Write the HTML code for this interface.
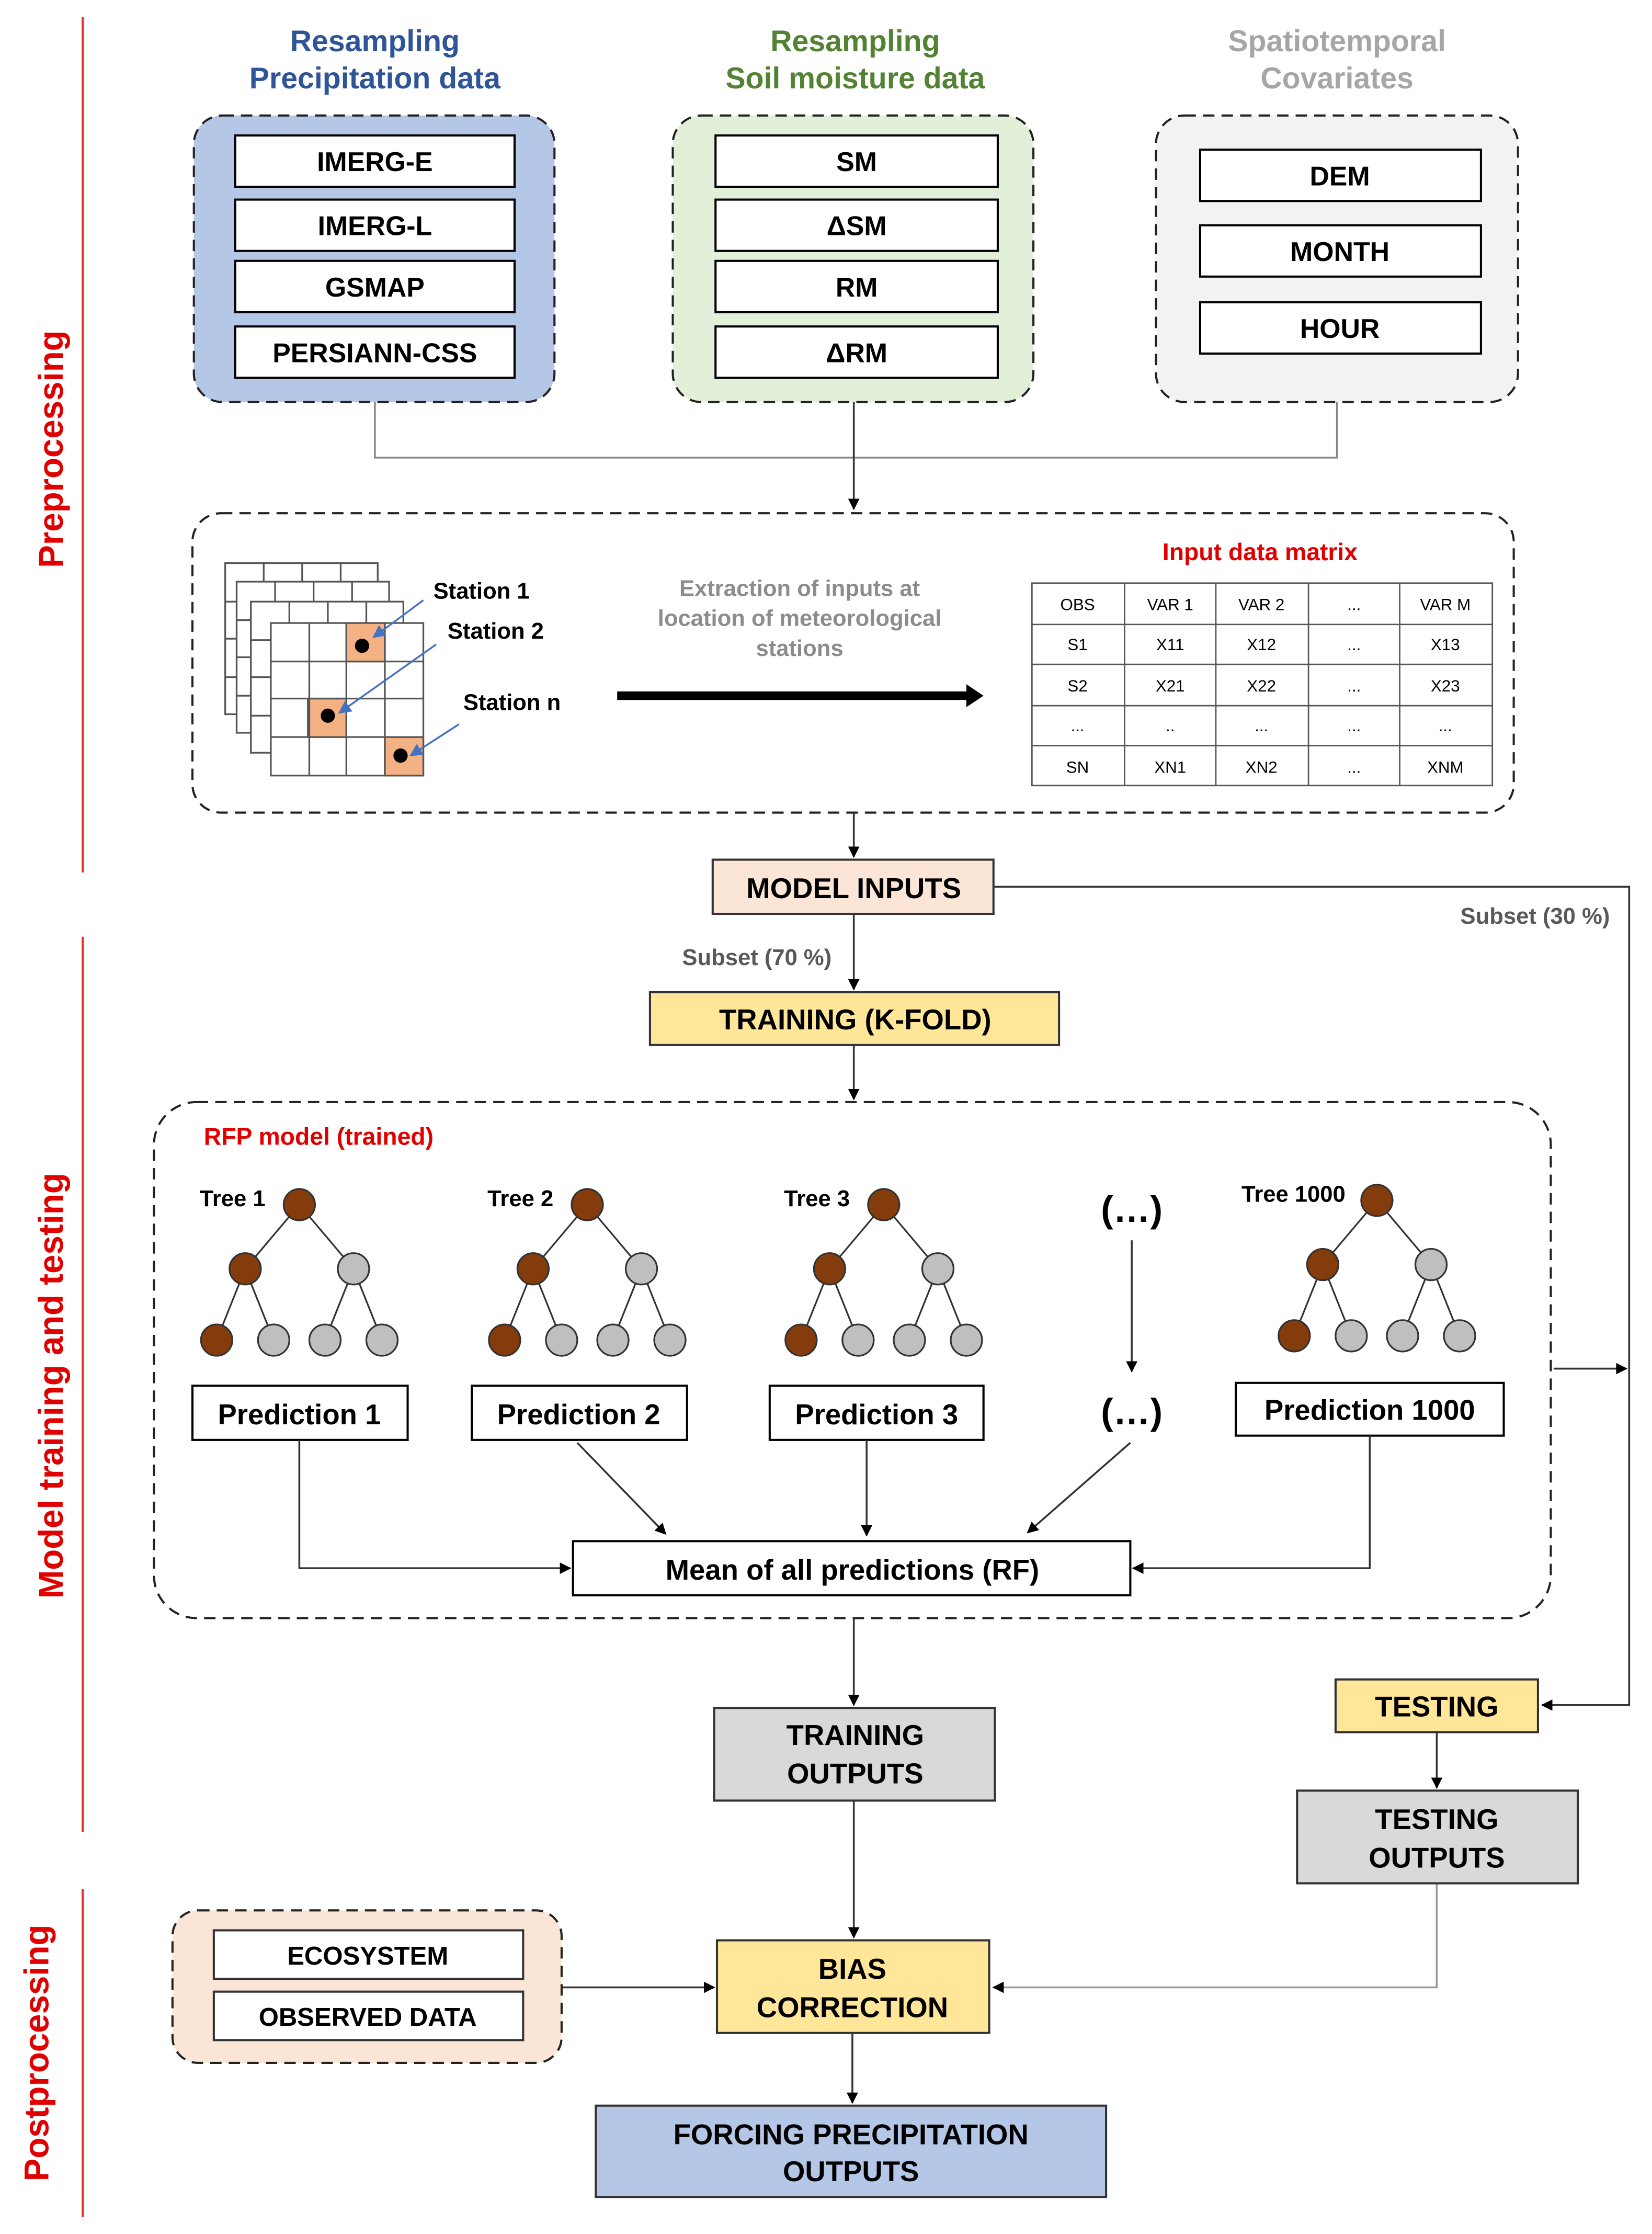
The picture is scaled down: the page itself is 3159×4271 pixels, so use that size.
<!DOCTYPE html>
<html><head><meta charset="utf-8"><style>html,body{margin:0;padding:0;background:#fff}svg{display:block}</style></head><body>
<svg xmlns="http://www.w3.org/2000/svg" width="3159" height="4271" viewBox="0 0 1159 1567" font-family="Liberation Sans, Arial, sans-serif" font-weight="bold">
<defs>
<marker id="a" viewBox="0 0 10 10" refX="9" refY="5" markerWidth="8" markerHeight="8" orient="auto-start-reverse" markerUnits="userSpaceOnUse"><path d="M0,0 L10,5 L0,10 z" fill="#000"/></marker>
<marker id="b" viewBox="0 0 10 10" refX="9" refY="5" markerWidth="9" markerHeight="9" orient="auto" markerUnits="userSpaceOnUse"><path d="M0,0 L10,5 L0,10 z" fill="#4472c4"/></marker>
</defs>
<rect width="1159" height="1567" fill="#fff"/>
<!-- side labels -->
<g stroke="#e03030" stroke-width="1.5"><line x1="58" y1="12" x2="58" y2="612"/><line x1="58" y1="657" x2="58" y2="1285"/><line x1="58" y1="1325" x2="58" y2="1555"/></g>
<g fill="#e00000" font-size="24" text-anchor="middle">
<text transform="translate(44,315) rotate(-90)">Preprocessing</text>
<text transform="translate(44,972) rotate(-90)">Model training and testing</text>
<text transform="translate(34,1440) rotate(-90)">Postprocessing</text>
</g>
<!-- headers -->
<g font-size="21" text-anchor="middle">
<text x="263" y="36" fill="#2f5597">Resampling</text><text x="263" y="62" fill="#2f5597">Precipitation data</text>
<text x="600" y="36" fill="#548235">Resampling</text><text x="600" y="62" fill="#548235">Soil moisture data</text>
<text x="938" y="36" fill="#a6a6a6">Spatiotemporal</text><text x="938" y="62" fill="#a6a6a6">Covariates</text>
</g>
<g stroke="#222" stroke-width="1.5" stroke-dasharray="8,5">
<rect x="136" y="81" width="253" height="201" rx="20" fill="#b4c7e7"/>
<rect x="472" y="81" width="253" height="201" rx="20" fill="#e2f0d9"/>
<rect x="811" y="81" width="254" height="201" rx="20" fill="#f2f2f2"/>
</g>
<g stroke="#000" stroke-width="1.5" fill="#fff">
<rect x="165" y="95" width="196" height="36"/><rect x="165" y="140" width="196" height="36"/><rect x="165" y="183" width="196" height="36"/><rect x="165" y="229" width="196" height="36"/>
<rect x="502" y="95" width="198" height="36"/><rect x="502" y="140" width="198" height="36"/><rect x="502" y="183" width="198" height="36"/><rect x="502" y="229" width="198" height="36"/>
<rect x="842" y="105" width="197" height="36"/><rect x="842" y="158" width="197" height="36"/><rect x="842" y="212" width="197" height="36"/>
</g>
<g font-size="19" text-anchor="middle" fill="#000">
<text x="263" y="120">IMERG-E</text><text x="263" y="165">IMERG-L</text><text x="263" y="208">GSMAP</text><text x="263" y="254">PERSIANN-CSS</text>
<text x="601" y="120">SM</text><text x="601" y="165">ΔSM</text><text x="601" y="208">RM</text><text x="601" y="254">ΔRM</text>
<text x="940" y="130">DEM</text><text x="940" y="183">MONTH</text><text x="940" y="237">HOUR</text>
</g>
<g fill="none" stroke="#888" stroke-width="1.3"><polyline points="263,282 263,321 938,321 938,282"/></g>
<line x1="599" y1="282" x2="599" y2="357" stroke="#333" stroke-width="1.3" marker-end="url(#a)"/>
<!-- extraction box -->
<rect x="135" y="360" width="927" height="210" rx="20" fill="#fff" stroke="#222" stroke-width="1.5" stroke-dasharray="8,5"/>
<g stroke="#555" stroke-width="1.2" fill="#fff">
<g><rect x="158" y="395" width="107" height="106"/><path d="M185,395v106M212,395v106M239,395v106M158,422h107M158,448h107M158,475h107" fill="none"/></g>
<g><rect x="166" y="408" width="107" height="106"/><path d="M193,408v106M220,408v106M247,408v106M166,435h107M166,461h107M166,488h107" fill="none"/></g>
<g><rect x="176" y="422" width="107" height="106"/><path d="M203,422v106M230,422v106M257,422v106M176,449h107M176,475h107M176,502h107" fill="none"/></g>
<rect x="190" y="437" width="107" height="107"/>
<rect x="243" y="437" width="27" height="27" fill="#f4b183"/><rect x="216" y="490" width="27" height="27" fill="#f4b183"/><rect x="270" y="517" width="27" height="27" fill="#f4b183"/>
<path d="M217,437v107M243,437v107M270,437v107M190,464h107M190,490h107M190,517h107" fill="none"/>
</g>
<g fill="#000"><circle cx="254" cy="453" r="5"/><circle cx="230" cy="502" r="5"/><circle cx="281" cy="530" r="5"/></g>
<g stroke="#4472c4" stroke-width="1.3"><line x1="297" y1="421" x2="262" y2="447" marker-end="url(#b)"/><line x1="306" y1="452" x2="238" y2="500" marker-end="url(#b)"/><line x1="322" y1="508" x2="288" y2="530" marker-end="url(#b)"/></g>
<g font-size="16" fill="#000"><text x="304" y="420">Station 1</text><text x="314" y="448">Station 2</text><text x="325" y="498">Station n</text></g>
<g font-size="16" fill="#8c8c8c" font-weight="normal" text-anchor="middle" style="font-weight:600"><text x="561" y="418">Extraction of inputs at</text><text x="561" y="439">location of meteorological</text><text x="561" y="460">stations</text></g>
<line x1="433" y1="488" x2="680" y2="488" stroke="#000" stroke-width="6"/><path d="M678,480 L690,488 L678,496z" fill="#000"/>
<text x="884" y="393" font-size="17" fill="#e00000" text-anchor="middle">Input data matrix</text>
<g stroke="#555" stroke-width="1" fill="none"><rect x="724" y="409" width="323" height="142"/><path d="M789,409v142M853,409v142M918,409v142M982,409v142M724,438h323M724,466h323M724,495h323M724,523h323"/></g>
<g font-size="11.5" fill="#000" text-anchor="middle" style="font-weight:normal">
<text x="756" y="428">OBS</text><text x="821" y="428">VAR 1</text><text x="885" y="428">VAR 2</text><text x="950" y="428">...</text><text x="1014" y="428">VAR M</text>
<text x="756" y="456">S1</text><text x="821" y="456">X11</text><text x="885" y="456">X12</text><text x="950" y="456">...</text><text x="1014" y="456">X13</text>
<text x="756" y="485">S2</text><text x="821" y="485">X21</text><text x="885" y="485">X22</text><text x="950" y="485">...</text><text x="1014" y="485">X23</text>
<text x="756" y="513">...</text><text x="821" y="513">..</text><text x="885" y="513">...</text><text x="950" y="513">...</text><text x="1014" y="513">...</text>
<text x="756" y="542">SN</text><text x="821" y="542">XN1</text><text x="885" y="542">XN2</text><text x="950" y="542">...</text><text x="1014" y="542">XNM</text>
</g>
<g stroke="#333" stroke-width="1.3" fill="none">
<line x1="599" y1="570" x2="599" y2="601" marker-end="url(#a)"/>
<line x1="599" y1="641" x2="599" y2="694" marker-end="url(#a)"/>
<line x1="599" y1="733" x2="599" y2="771" marker-end="url(#a)"/>
<polyline points="697,622 1143,622 1143,1196 1082,1196" marker-end="url(#a)"/>
<line x1="1090" y1="960" x2="1141" y2="960" marker-end="url(#a)"/>
</g>
<rect x="500" y="603" width="197" height="38" fill="#fbe5d6" stroke="#333" stroke-width="1.5"/>
<text x="599" y="630" font-size="20" text-anchor="middle">MODEL INPUTS</text>
<text x="1077" y="648" font-size="16" fill="#595959" text-anchor="middle">Subset (30 %)</text>
<text x="531" y="677" font-size="16" fill="#595959" text-anchor="middle">Subset (70 %)</text>
<rect x="456" y="696" width="287" height="37" fill="#ffe699" stroke="#333" stroke-width="1.5"/>
<text x="600" y="722" font-size="20" text-anchor="middle">TRAINING  (K-FOLD)</text>
<!-- RF box -->
<rect x="108" y="773" width="980" height="362" rx="30" fill="none" stroke="#222" stroke-width="1.5" stroke-dasharray="8,5"/>
<text x="143" y="803" font-size="17" fill="#e00000">RFP model (trained)</text>
<g id="t1" stroke="#333" stroke-width="1.2">
<path d="M210,845 L172,890 M210,845 L248,890 M172,890 L152,940 M172,890 L192,940 M248,890 L228,940 M248,890 L268,940"/>
<circle cx="210" cy="845" r="11" fill="#843c0c"/><circle cx="172" cy="890" r="11" fill="#843c0c"/><circle cx="248" cy="890" r="11" fill="#bfbfbf"/>
<circle cx="152" cy="940" r="11" fill="#843c0c"/><circle cx="192" cy="940" r="11" fill="#bfbfbf"/><circle cx="228" cy="940" r="11" fill="#bfbfbf"/><circle cx="268" cy="940" r="11" fill="#bfbfbf"/>
</g>
<use href="#t1" x="202"/><use href="#t1" x="410"/><use href="#t1" x="756" y="-3"/>
<g font-size="16" fill="#000"><text x="140" y="846">Tree 1</text><text x="342" y="846">Tree 2</text><text x="550" y="846">Tree 3</text><text x="871" y="843">Tree 1000</text></g>
<g font-size="26" text-anchor="middle"><text x="794" y="857">(…)</text><text x="794" y="999">(…)</text></g>
<g stroke="#000" stroke-width="1.5" fill="#fff">
<rect x="135" y="972" width="151" height="38"/><rect x="331" y="972" width="151" height="38"/><rect x="540" y="972" width="150" height="38"/><rect x="867" y="970" width="188" height="37"/>
<rect x="402" y="1081" width="391" height="38"/>
</g>
<g font-size="20" text-anchor="middle"><text x="210" y="999">Prediction 1</text><text x="406" y="999">Prediction 2</text><text x="615" y="999">Prediction 3</text><text x="961" y="996">Prediction 1000</text><text x="598" y="1108">Mean of all predictions (RF)</text></g>
<g stroke="#333" stroke-width="1.3" fill="none">
<line x1="794" y1="870" x2="794" y2="962" marker-end="url(#a)"/>
<polyline points="210,1010 210,1100 400,1100" marker-end="url(#a)"/>
<line x1="405" y1="1012" x2="467" y2="1076" marker-end="url(#a)"/>
<line x1="608" y1="1010" x2="608" y2="1077" marker-end="url(#a)"/>
<line x1="793" y1="1012" x2="721" y2="1075" marker-end="url(#a)"/>
<polyline points="961,1007 961,1100 795,1100" marker-end="url(#a)"/>
<line x1="599" y1="1135" x2="599" y2="1196" marker-end="url(#a)"/>
<line x1="1008" y1="1215" x2="1008" y2="1254" marker-end="url(#a)"/>
<line x1="599" y1="1263" x2="599" y2="1359" marker-end="url(#a)"/>
<line x1="394" y1="1394" x2="501" y2="1394" marker-end="url(#a)"/>
<line x1="598" y1="1426" x2="598" y2="1475" marker-end="url(#a)"/>
</g>
<polyline points="1008,1321 1008,1394 697,1394" fill="none" stroke="#999" stroke-width="1.3" marker-end="url(#a)"/>
<g stroke="#333" stroke-width="1.5">
<rect x="501" y="1198" width="197" height="65" fill="#d9d9d9"/>
<rect x="937" y="1178" width="142" height="37" fill="#ffe699"/>
<rect x="910" y="1256" width="197" height="65" fill="#d9d9d9"/>
<rect x="503" y="1361" width="191" height="65" fill="#ffe699"/>
<rect x="418" y="1477" width="358" height="64" fill="#b4c7e7"/>
</g>
<rect x="121" y="1340" width="273" height="107" rx="18" fill="#fbe5d6" stroke="#222" stroke-width="1.5" stroke-dasharray="8,5"/>
<g stroke="#333" stroke-width="1.5" fill="#fff"><rect x="150" y="1354" width="217" height="34"/><rect x="150" y="1397" width="217" height="34"/></g>
<g font-size="20" text-anchor="middle">
<text x="600" y="1224">TRAINING</text><text x="600" y="1251">OUTPUTS</text>
<text x="1008" y="1204">TESTING</text>
<text x="1008" y="1283">TESTING</text><text x="1008" y="1310">OUTPUTS</text>
<text x="598" y="1388">BIAS</text><text x="598" y="1415">CORRECTION</text>
<text x="597" y="1504">FORCING PRECIPITATION</text><text x="597" y="1530">OUTPUTS</text>
</g>
<g font-size="18" text-anchor="middle"><text x="258" y="1378">ECOSYSTEM</text><text x="258" y="1421">OBSERVED DATA</text></g>
</svg>
</body></html>
